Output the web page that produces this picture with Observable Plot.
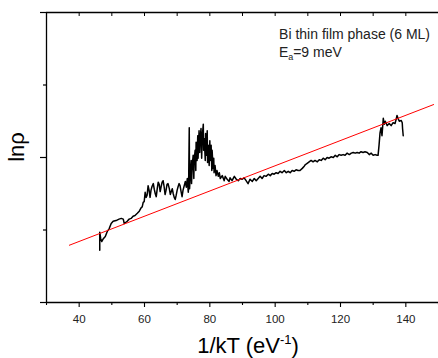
<!DOCTYPE html>
<html><head><meta charset="utf-8">
<script src="https://cdn.jsdelivr.net/npm/d3@7"></script>
<script src="https://cdn.jsdelivr.net/npm/@observablehq/plot@0.6"></script>
<style>body{margin:0;background:#fff} #chart{width:438px;height:358px}</style>
</head><body><div id="chart"></div>
<script>
// 1/kT (eV^-1) and ln(rho) (arbitrary units)
const invKT = [46.3,46.3,46.6,46.9,47.4,48.0,48.6,49.2,49.8,50.4,51.3,52.2,52.9,53.5,53.8,54.1,54.7,55.3,55.9,56.5,57.1,57.8,58.4,59.0,59.3,59.6,59.9,
60.2,60.5,60.8,61.1,61.4,61.7,62.0,62.3,62.7,63.0,63.3,63.6,63.9,64.2,64.5,64.8,65.1,65.4,65.7,66.0,66.3,66.6,66.9,67.2,67.6,67.9,68.2,68.5,68.8,69.1,69.4,69.7,70.0,70.3,70.6,70.9,71.2,71.5,71.8,72.1,72.5,72.8,73.1,73.4,73.5,
73.7,73.8,74.0,74.3,74.4,74.6,74.9,75.1,75.2,75.5,75.7,75.8,76.1,76.3,76.4,76.7,76.9,77.0,77.3,77.5,77.7,78.0,78.1,78.3,78.6,78.7,78.9,79.2,79.3,79.5,79.8,80.0,80.1,80.4,80.6,80.7,81.0,81.2,81.3,81.6,81.9,82.2,82.6,82.9,83.2,83.8,84.4,84.7,85.3,85.9,86.2,86.8,87.5,88.1,88.7,89.3,89.9,90.5,91.1,91.7,92.3,93.0,93.6,94.2,94.8,95.4,96.0,96.6,97.2,97.9,98.5,99.1,99.7,100.3,100.9,101.5,102.1,102.8,103.4,104.0,104.6,105.2,105.8,106.4,107.0,107.6,108.3,108.9,109.2,109.8,110.4,111.0,111.6,112.2,112.9,113.5,114.1,114.7,115.3,115.9,116.5,117.1,117.8,118.4,119.0,119.6,120.2,120.8,121.4,122.0,122.7,123.3,123.9,124.5,125.1,125.7,126.3,126.9,127.5,128.2,128.8,129.4,130.0,130.6,131.2,131.5,
131.8,132.1,132.4,132.7,133.1,133.4,133.7,134.3,134.9,135.5,136.1,136.7,137.0,137.3,137.6,138.0,138.6,138.9,139.0,139.2];
const lnRho = [0.72,0.97,0.88,0.84,0.88,0.91,0.98,1.02,1.09,1.12,1.13,1.15,1.16,1.15,1.09,1.10,1.12,1.15,1.16,1.19,1.20,1.23,1.26,1.31,1.32,1.38,1.39,
1.52,1.45,1.48,1.61,1.55,1.45,1.55,1.60,1.64,1.56,1.50,1.46,1.57,1.66,1.63,1.53,1.60,1.66,1.68,1.60,1.49,1.55,1.63,1.64,1.57,1.49,1.53,1.57,1.50,1.45,1.42,1.48,1.55,1.60,1.64,1.61,1.53,1.46,1.55,1.60,1.67,1.59,1.71,1.52,1.60,
2.41,1.57,1.75,1.96,1.64,1.89,2.03,1.71,1.96,2.10,1.82,2.21,1.96,2.30,1.99,2.37,2.07,2.23,2.40,1.99,2.30,2.46,2.10,2.26,1.96,2.33,2.03,2.37,1.93,2.17,1.89,2.23,1.96,2.17,1.82,2.10,1.85,1.99,1.79,1.89,1.75,1.82,1.74,1.79,1.71,1.75,1.68,1.74,1.70,1.67,1.72,1.68,1.74,1.70,1.68,1.71,1.70,1.72,1.68,1.64,1.70,1.67,1.71,1.68,1.71,1.74,1.71,1.75,1.74,1.77,1.75,1.78,1.77,1.79,1.78,1.81,1.79,1.82,1.79,1.81,1.79,1.82,1.81,1.83,1.82,1.82,1.85,1.88,1.90,1.92,1.94,1.96,1.94,1.96,1.94,1.97,1.96,1.99,1.97,2.00,1.99,2.01,2.00,2.03,2.01,2.04,2.03,2.04,2.03,2.06,2.04,2.06,2.07,2.06,2.07,2.06,2.08,2.07,2.08,2.07,2.04,2.06,2.03,2.04,2.03,2.03,
2.17,2.34,2.41,2.30,2.54,2.46,2.50,2.44,2.47,2.44,2.48,2.47,2.52,2.58,2.54,2.50,2.51,2.48,2.40,2.30];
// linear fit (red)
const fitX = [37, 148.5];
const fitY = [0.79, 2.73];
// ticks
const xMajor = [40, 60, 80, 100, 120, 140];
const xMinor = [30, 50, 70, 90, 110, 130, 150];
const xTop = [30, 40, 50, 60, 70, 80, 90, 100, 110, 120, 130, 140, 150];
const yMajor = [0, 2, 4];
const yMinor = [1, 3];
// annotation
const noteTitle = "Bi thin film phase (6 ML)";
const noteE = "E", noteSub = "a", noteRest = "=9 meV";

const curve = invKT.map((x, i) => ({x, y: lnRho[i]}));
const fit = fitX.map((x, i) => ({x, y: fitY[i]}));
const font = "'Liberation Sans', Arial, sans-serif";
const blank = () => "";

const plot = Plot.plot({
  width: 438, height: 358,
  marginLeft: 46, marginRight: 0, marginTop: 12, marginBottom: 56,
  x: {domain: [30, 150]},
  y: {domain: [0, 4]},
  style: {fontFamily: font, fontSize: "11.5px", color: "#000", background: "#fff"},
  marks: [
    Plot.ruleX([30], {stroke: "#000", strokeWidth: 1.3}),
    Plot.ruleY([0, 4], {stroke: "#000", strokeWidth: 1.3}),
    Plot.axisY(yMajor, {tickSize: 6, tickFormat: blank, label: null, strokeWidth: 1.2}),
    Plot.axisY(yMinor, {tickSize: 3, tickFormat: blank, label: null, strokeWidth: 1.2}),
    Plot.axisX(xMajor, {tickSize: 5, tickPadding: 7, label: null, fontSize: 11.5, fill: "#222", strokeWidth: 1.1}),
    Plot.axisX(xMinor, {tickSize: 3, tickFormat: blank, label: null, strokeWidth: 1.1}),
    Plot.axisX(xTop, {anchor: "top", tickSize: -3, tickFormat: blank, label: null, strokeWidth: 1}),
    Plot.line(curve, {x: "x", y: "y", stroke: "#000", strokeWidth: 1.5}),
    Plot.line(fit, {x: "x", y: "y", stroke: "#ff0000", strokeWidth: 1}),
    Plot.text([noteTitle], {x: 101.2, y: 3.64, text: d => d, textAnchor: "start", lineAnchor: "bottom", fontSize: 14, fill: "#222"}),
    Plot.text([noteE], {x: 101.2, y: 3.39, text: d => d, textAnchor: "start", lineAnchor: "bottom", fontSize: 14, fill: "#222"}),
    Plot.text([noteSub], {x: 104.0, y: 3.34, text: d => d, textAnchor: "start", lineAnchor: "bottom", fontSize: 9, fill: "#222"}),
    Plot.text([noteRest], {x: 105.5, y: 3.39, text: d => d, textAnchor: "start", lineAnchor: "bottom", fontSize: 14, fill: "#222"})
  ]
});

const svg = d3.select(plot);
const xl = svg.append("text").attr("x", 248).attr("y", 353).attr("text-anchor", "middle")
  .attr("font-family", font).attr("font-size", 22).attr("fill", "#000");
xl.append("tspan").text("1/kT (eV");
xl.append("tspan").attr("font-size", 13).attr("dy", -9).text("-1");
xl.append("tspan").attr("dy", 9).text(")");
svg.append("text").attr("transform", "translate(24,147) rotate(-90)").attr("text-anchor", "middle")
  .attr("font-family", font).attr("font-size", 22).attr("fill", "#000").text("lnρ");

document.getElementById("chart").appendChild(plot);
</script>
</body></html>
